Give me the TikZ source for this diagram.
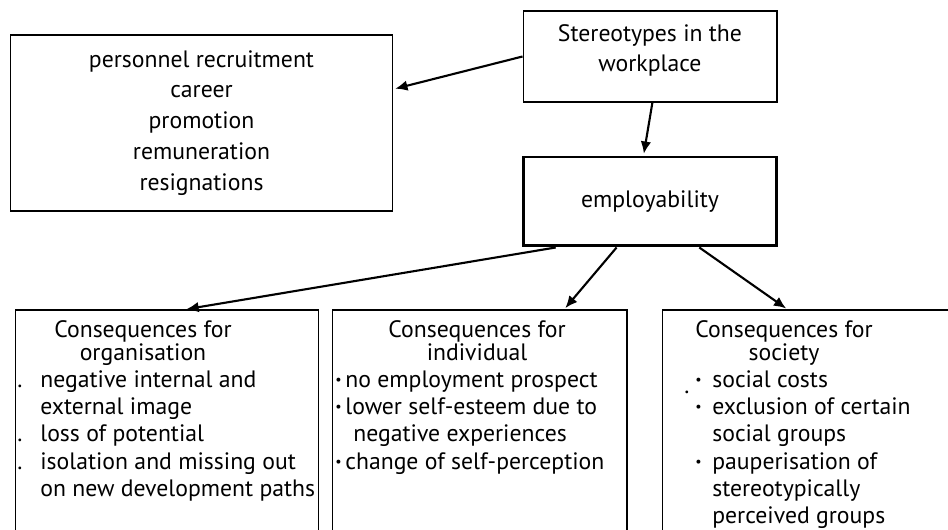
\documentclass[tikz,border=0pt]{standalone}
\usepackage{fontspec}
\setmainfont{PT Sans}
\usetikzlibrary{arrows.meta}
\newcommand{\dotbul}{\raisebox{0.12em}{\fontsize{8}{8}\selectfont\textbullet}}

\begin{document}
\begin{tikzpicture}[x=0.02cm,y=-0.02cm,>={Latex[length=7pt,width=6pt]},
  font=\fontsize{13.5}{15.5}\selectfont,
  box/.style={draw,line width=0.6pt,inner sep=0pt},
  txt/.style={inner sep=0pt,align=center},
  title/.style={txt,anchor=north,font=\fontsize{13.5}{13.5}\selectfont},
  con/.style={->,line width=1.2pt,shorten >=1pt}]
\useasboundingbox (0,0) rectangle (948,530);
\clip (0,0) rectangle (948,530);
% top row
\node[box,minimum width=7.66cm,minimum height=3.52cm,align=center,font=\fontsize{13.5}{17.6}\selectfont] (impact) at (201.5,123) {personnel recruitment\\career\\promotion\\remuneration\\resignations};
\node[box,minimum width=5.08cm,minimum height=1.82cm] (stereo) at (650,56.5) {};
\node[txt,font=\fontsize{13.5}{17}\selectfont] (stereotxt) at (650,50) {Stereotypes in the\\workplace};
\node[box,line width=1.7pt,minimum width=5.08cm,minimum height=1.78cm] (employ) at (650,201.5) {employability};
% consequences
\node[box,minimum width=6.08cm,minimum height=5cm] (org) at (167,435) {};
\node[box,minimum width=5.9cm,minimum height=5cm] (indiv) at (479.5,435) {};
\node[box,minimum width=6.56cm,minimum height=5cm] (soc) at (826,435) {};
\node[title] (orgtitle) at (143,320) {Consequences for\\organisation};
\node[title] (indivtitle) at (477,320) {Consequences for\\individual};
\node[title] (soctitle) at (784,320) {Consequences for\\society};
\node[txt,anchor=north west,align=left] (orglist) at (17,368) {\begin{tabular}{@{}p{0.46cm}@{}l@{}}
. & negative internal and\\ & external image\\ . & loss of potential\\ . & isolation and missing out\\ & on new development paths\end{tabular}};
\node[txt,anchor=north west,align=left] (indivlist) at (335,368) {\begin{tabular}{@{}p{0.2cm}@{}l@{}}
\dotbul & no employment prospect\\ \dotbul & lower self-esteem due to\\ & \hspace{0.16cm}negative experiences\\ \dotbul & change of self-perception\end{tabular}};
\node[txt,anchor=north west,align=left] (soclist) at (695,368) {\begin{tabular}{@{}p{0.34cm}@{}l@{}}
\dotbul & social costs\\ \dotbul & exclusion of certain\\ & social groups\\ \dotbul & pauperisation of\\ & stereotypically\\ & perceived groups\end{tabular}};
\node[txt] (straydot) at (687,392) {.};
% arrows
\draw[con] (stereo.west) -- (impact.10);
\draw[con] (stereo.-87) -- (employ.98);
\draw[con] (employ.-154) -- (org.82);
\draw[con] (employ.-126) -- (indiv.56);
\draw[con] (employ.-43) -- (soc.107);
\end{tikzpicture}
\end{document}
